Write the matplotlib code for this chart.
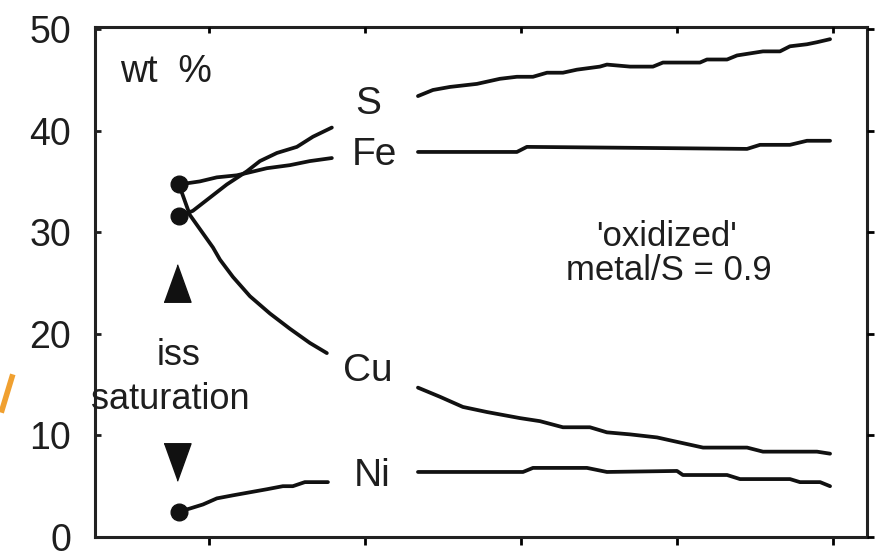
import matplotlib
matplotlib.use("Agg")
import matplotlib.pyplot as plt
from matplotlib.lines import Line2D

plt.rcParams['font.family'] = ['Liberation Sans', 'DejaVu Sans']

# ---- data (x in arbitrary progress units, ticks at 1..5; y in wt %) ----
s1_x = [0.808, 0.897, 1.006, 1.115, 1.244, 1.327, 1.436, 1.564, 1.667, 1.788]
s1_y = [31.6, 32.1, 33.4, 34.7, 36.0, 37.0, 37.8, 38.4, 39.4, 40.3]
s2_x = [2.340, 2.436, 2.545, 2.718, 2.865, 2.974, 3.077, 3.167, 3.269, 3.359, 3.506,
        3.551, 3.699, 3.846, 3.910, 4.147, 4.192, 4.321, 4.385, 4.551, 4.660, 4.724,
        4.833, 4.897, 4.981]
s2_y = [43.4, 44.0, 44.3, 44.6, 45.1, 45.3, 45.3, 45.7, 45.7, 46.0, 46.3,
        46.5, 46.3, 46.3, 46.7, 46.7, 47.0, 47.0, 47.4, 47.8, 47.8, 48.3,
        48.5, 48.7, 49.0]

fe1_x = [0.808, 0.942, 1.051, 1.179, 1.263, 1.372, 1.519, 1.647, 1.788]
fe1_y = [34.7, 35.0, 35.4, 35.6, 35.9, 36.3, 36.6, 37.0, 37.3]
fe2_x = [2.340, 2.974, 3.038, 3.763, 4.449, 4.532, 4.724, 4.833, 4.981]
fe2_y = [37.9, 37.9, 38.4, 38.3, 38.2, 38.6, 38.6, 39.0, 39.0]

cu1_x = [0.808, 0.878, 1.026, 1.071, 1.154, 1.263, 1.391, 1.519, 1.647, 1.756]
cu1_y = [34.7, 31.7, 28.5, 27.3, 25.6, 23.7, 22.0, 20.5, 19.1, 18.1]
cu2_x = [2.340, 2.481, 2.628, 2.782, 2.994, 3.122, 3.269, 3.442, 3.551, 3.699,
         3.872, 4.019, 4.167, 4.449, 4.551, 4.897, 4.981]
cu2_y = [14.7, 13.8, 12.8, 12.3, 11.7, 11.4, 10.8, 10.8, 10.3, 10.1,
         9.8, 9.3, 8.8, 8.8, 8.4, 8.4, 8.2]

ni1_x = [0.808, 0.878, 0.962, 1.051, 1.154, 1.263, 1.372, 1.474, 1.538, 1.615, 1.763]
ni1_y = [2.5, 2.8, 3.2, 3.8, 4.1, 4.4, 4.7, 5.0, 5.0, 5.4, 5.4]
ni2_x = [2.340, 3.013, 3.077, 3.423, 3.551, 4.000, 4.038, 4.321, 4.404, 4.724, 4.788,
         4.917, 4.981]
ni2_y = [6.4, 6.4, 6.8, 6.8, 6.4, 6.5, 6.1, 6.1, 5.7, 5.7, 5.4, 5.4, 5.0]

dot_x = [0.808, 0.808, 0.808]
dot_y = [34.7, 31.6, 2.5]

y_ticks = [0, 10, 20, 30, 40, 50]
x_ticks = [1, 2, 3, 4, 5]

labels = [("S", 2.02, 42.6), ("Fe", 2.06, 37.6), ("Cu", 2.02, 16.3), ("Ni", 2.045, 6.0)]

# ---- figure ----
fig = plt.figure(figsize=(8.86, 5.6), dpi=100)
ax = fig.add_axes([0.1072, 0.0411, 0.8714, 0.9107])
ax.set_xlim(0.27, 5.218)
ax.set_ylim(0, 50.2)

lw = 2.7
tc = '#1e1e1e'
for xs, ys in [(s1_x, s1_y), (s2_x, s2_y), (fe1_x, fe1_y), (fe2_x, fe2_y),
               (cu1_x, cu1_y), (cu2_x, cu2_y), (ni1_x, ni1_y), (ni2_x, ni2_y)]:
    ax.plot(xs, ys, color='#111111', lw=lw, solid_capstyle='round', solid_joinstyle='round')
ax.plot(dot_x, dot_y, 'o', color='#111111', ms=12, zorder=5)

tri_up = [(-0.72, -1), (0.72, -1), (0, 1)]
tri_dn = [(-0.72, 1), (0.72, 1), (0, -1)]
ax.plot([0.795], [25.0], marker=tri_up, color='#111111', ms=27, ls='none')
ax.plot([0.795], [7.4], marker=tri_dn, color='#111111', ms=27, ls='none')

for t, x, y in labels:
    ax.text(x, y, t, fontsize=28, ha='center', va='center', color=tc)
ax.text(0.724, 45.8, "wt  %", fontsize=27, ha='center', va='center', color=tc)
ax.text(0.805, 17.9, "iss", fontsize=26, ha='center', va='center', color=tc)
ax.text(0.75, 13.5, "saturation", fontsize=26, ha='center', va='center', color=tc)
ax.text(3.93, 29.6, "'oxidized'", fontsize=25, ha='center', va='center', color=tc)
ax.text(3.95, 26.2, "metal/S = 0.9", fontsize=25, ha='center', va='center', color=tc)

# axes styling
for sp in ax.spines.values():
    sp.set_linewidth(2.2)
    sp.set_color('#222222')
ax.set_yticks(y_ticks)
ax.set_xticks(x_ticks)
ax.set_xticklabels([])
ax.tick_params(axis='y', direction='in', length=4, width=2, labelsize=27, pad=17,
               colors=tc)
ax.tick_params(axis='x', direction='out', length=6, width=2)

axt = ax.twiny()
axt.set_xlim(ax.get_xlim())
axt.set_xticks(x_ticks)
axt.set_xticklabels([])
axt.tick_params(axis='x', direction='in', length=4, width=2)

axr = ax.twinx()
axr.set_ylim(ax.get_ylim())
axr.set_yticks(y_ticks)
axr.set_yticklabels([])
axr.tick_params(axis='y', direction='out', length=5, width=2)
for a in (axt, axr):
    for sp in a.spines.values():
        sp.set_visible(False)

# orange fragment at the left edge
fig.add_artist(Line2D([2 / 886, 12 / 886], [1 - 410 / 560, 1 - 377 / 560],
                      transform=fig.transFigure, color='#f0a030', lw=4))

fig.savefig("out.png", dpi=100)
